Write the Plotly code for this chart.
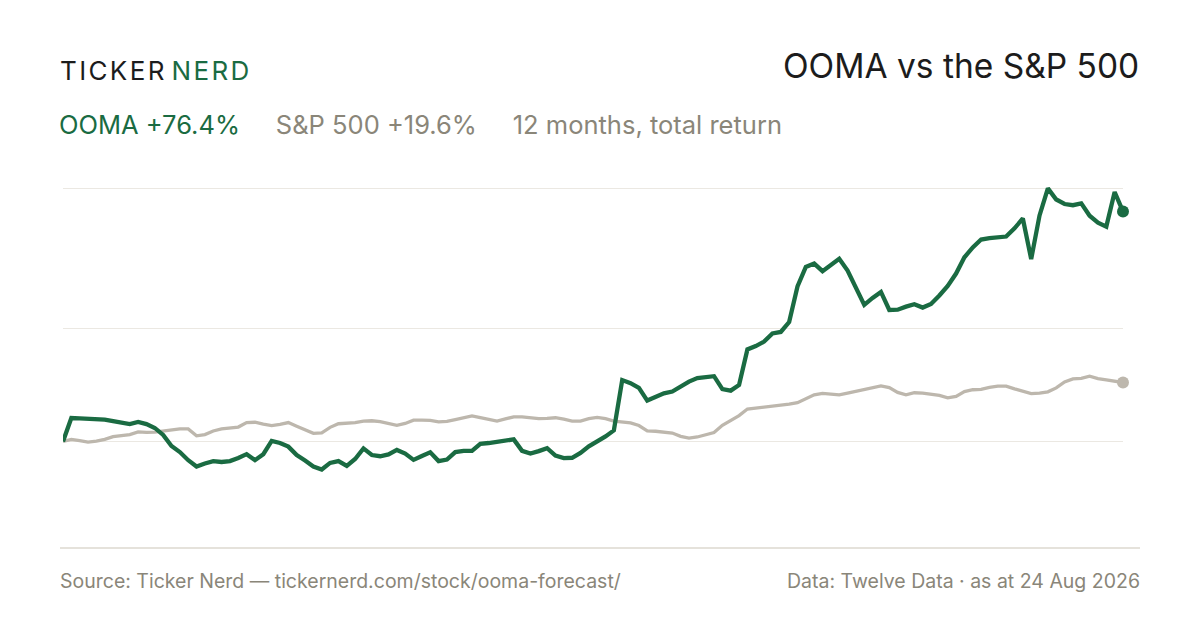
import plotly.graph_objects as go

# 12-month total return, %
ooma = [0.0, 7.8, 7.7, 7.6, 7.5, 7.3, 6.8, 6.3, 5.8, 6.5, 5.8, 4.5, 2.2, -1.5, -3.5, -6.2,
        -8.3, -7.3, -6.5, -6.8, -6.5, -5.5, -4.2, -6.2, -4.2, 0.2, -0.5, -1.7, -4.5, -6.3,
        -8.3, -9.3, -7.1, -6.5, -8.1, -5.8, -2.3, -4.5, -4.9, -4.3, -2.8, -4.0, -6.1, -4.8,
        -3.6, -6.5, -6.0, -3.5, -3.1, -3.1, -0.8, -0.5, -0.1, 0.3, 0.7, -3.1, -4.0, -3.2,
        -2.2, -4.7, -5.5, -5.4, -3.8, -1.6, 0.0, 1.7, 3.7, 20.4, 19.4, 17.8, 13.6, 14.8,
        16.0, 16.6, 18.3, 19.9, 21.1, 21.4, 21.7, 17.4, 16.9, 18.8, 30.6, 31.7, 33.2, 35.9,
        36.4, 39.7, 51.5, 58.0, 59.1, 56.6, 58.6, 60.7, 56.8, 51.0, 45.4, 47.7, 49.7, 43.7,
        43.8, 44.8, 45.6, 44.5, 45.7, 48.5, 51.7, 55.8, 61.2, 64.5, 67.1, 67.6, 67.7, 68.1,
        70.8, 74.1, 60.6, 75.1, 84.1, 80.4, 78.9, 78.5, 79.1, 75.0, 72.7, 71.4, 82.9, 76.4]

spx = [0.0, 0.7, 0.3, -0.2, 0.1, 0.7, 1.6, 2.0, 2.3, 3.2, 3.0, 3.1, 3.4, 3.9, 4.2, 4.2,
       1.9, 2.3, 3.5, 4.2, 4.6, 4.8, 6.3, 6.4, 5.8, 5.3, 5.7, 6.3, 5.1, 3.8,
       2.7, 2.9, 4.7, 5.9, 6.0, 6.3, 6.8, 6.9, 6.6, 6.1, 5.4, 6.0, 7.1, 7.1,
       7.0, 6.5, 6.7, 7.3, 7.9, 8.5, 7.9, 7.4, 6.8, 7.5, 8.2, 8.2, 7.8, 7.6,
       7.7, 7.9, 7.4, 6.8, 6.8, 7.6, 8.0, 7.6, 6.8, 6.5, 6.2, 5.3, 3.5, 3.4,
       3.2, 2.8, 1.7, 1.1, 1.5, 2.2, 3.0, 5.4, 7.1, 8.6, 10.8, 11.1, 11.3, 11.6,
       11.9, 12.4, 12.9, 14.3, 15.5, 16.0, 15.8, 15.5, 16.1, 16.7, 17.3, 18.0, 18.5, 17.9,
       16.3, 15.5, 16.2, 16.1, 15.7, 15.3, 14.5, 15.0, 16.6, 17.2, 17.3, 18.0, 18.4, 18.4,
       17.5, 16.6, 15.9, 16.1, 16.5, 17.8, 19.8, 20.8, 21.0, 21.7, 20.9, 20.5, 20.0, 19.6]

days = list(range(len(ooma)))

GREEN = "#1a6b42"
GREY_LINE = "#bdb7ad"
GREY_TEXT = "#8a8679"
GRID = "#ebe8e2"

# page has an 8px body margin, so the figure is a bit smaller and offset
W, H, OFF = 1192, 622, 8


def px(x):
    return (x - OFF) / W


def py(y):
    return 1 - (y - OFF) / H


# grid sits at the base, the mid of the OOMA range and the OOMA high
grid_vals = [0, (max(ooma) + min(ooma)) / 2, max(ooma)]

fig = go.Figure()

fig.add_trace(go.Scatter(x=days, y=spx, mode="lines",
                         line=dict(color=GREY_LINE, width=3.3), hoverinfo="skip"))
fig.add_trace(go.Scatter(x=days, y=ooma, mode="lines",
                         line=dict(color=GREEN, width=4.3), hoverinfo="skip"))
fig.add_trace(go.Scatter(x=[days[-1]], y=[spx[-1]], mode="markers", cliponaxis=False,
                         marker=dict(color=GREY_LINE, size=12), hoverinfo="skip"))
fig.add_trace(go.Scatter(x=[days[-1]], y=[ooma[-1]], mode="markers", cliponaxis=False,
                         marker=dict(color=GREEN, size=12), hoverinfo="skip"))

fig.update_xaxes(domain=[px(63), px(1123)], range=[0, len(days) - 1],
                 showgrid=False, zeroline=False, showticklabels=False, ticks="")
fig.update_yaxes(domain=[py(530), py(170)], range=[-29.4, 90.2],
                 tickvals=grid_vals, showticklabels=False, ticks="",
                 gridcolor=GRID, gridwidth=1, zeroline=False)

hs = "\u200a"
fig.add_annotation(x=px(58), y=py(70), xref="paper", yref="paper",
                   xanchor="left", yanchor="middle", showarrow=False,
                   text=hs.join("TICKER") + hs * 3 +
                   "<span style='color:%s'>%s</span>" % (GREEN, hs.join("NERD")),
                   font=dict(family="Inter", size=26, color="#1c1c1c"))
fig.add_annotation(x=px(1141), y=py(66), xref="paper", yref="paper",
                   xanchor="right", yanchor="middle", showarrow=False,
                   text="OOMA vs the S&P 500",
                   font=dict(family="Inter", size=33.5, color="#1c1c1c"))
fig.add_annotation(x=px(57), y=py(124), xref="paper", yref="paper",
                   xanchor="left", yanchor="middle", showarrow=False,
                   text="<span style='color:%s'>OOMA +76.4%%</span>"
                        "&nbsp;&nbsp;&nbsp;&nbsp;&nbsp;S&P 500 +19.6%%"
                        "&nbsp;&nbsp;&nbsp;&nbsp;&nbsp;12 months, total return" % GREEN,
                   font=dict(family="Inter", size=25.5, color=GREY_TEXT))
fig.add_annotation(x=px(58), y=py(581), xref="paper", yref="paper",
                   xanchor="left", yanchor="middle", showarrow=False,
                   text="Source: Ticker Nerd — tickernerd.com/stock/ooma-forecast/",
                   font=dict(family="Inter", size=19.5, color=GREY_TEXT))
fig.add_annotation(x=px(1142), y=py(581), xref="paper", yref="paper",
                   xanchor="right", yanchor="middle", showarrow=False,
                   text="Data: Twelve Data · as at 24 Aug 2026",
                   font=dict(family="Inter", size=19.5, color=GREY_TEXT))

fig.add_shape(type="line", xref="paper", yref="paper",
              x0=px(60), x1=px(1140), y0=py(548), y1=py(548),
              line=dict(color="#dcd8cf", width=1.5))

fig.update_layout(width=W, height=H, margin=dict(l=0, r=0, t=0, b=0),
                  paper_bgcolor="white", plot_bgcolor="white", showlegend=False)

fig.write_html("out.html")
